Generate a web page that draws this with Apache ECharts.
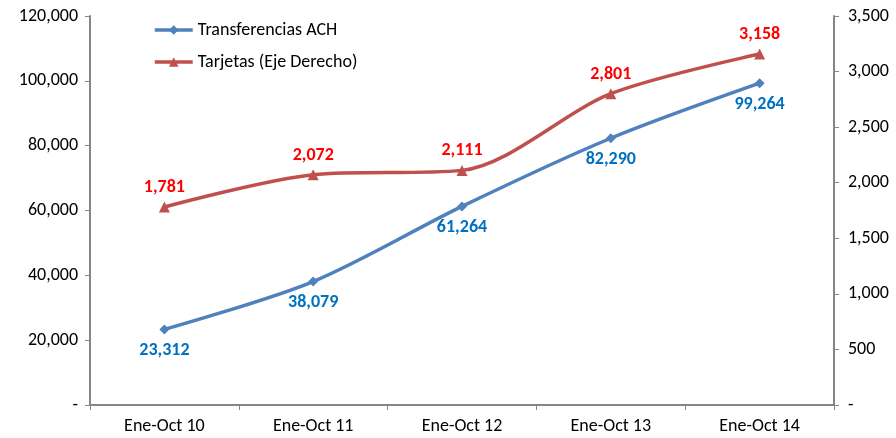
<!DOCTYPE html>
<html>
<head>
<meta charset="utf-8">
<script src="https://cdn.jsdelivr.net/npm/echarts@6/dist/echarts.min.js"></script>
<style>
  html, body { margin: 0; padding: 0; background: #fff; }
  #chart { width: 896px; height: 438px; }
</style>
</head>
<body>
<div id="chart"></div>
<script>
const categories = ['Ene-Oct 10', 'Ene-Oct 11', 'Ene-Oct 12', 'Ene-Oct 13', 'Ene-Oct 14'];
const transferenciasACH = [23312, 38079, 61264, 82290, 99264];
const tarjetas = [1781, 2072, 2111, 2801, 3158];

const fontFamily = 'Carlito, "Liberation Sans", "Noto Sans", sans-serif';
const fmt = v => v === 0 ? '-' : v.toLocaleString('en-US');

const chart = echarts.init(document.getElementById('chart'));
chart.setOption({
    animation: false,
    textStyle: { fontFamily: fontFamily },
    grid: { left: 90, right: 62, top: 16, bottom: 33 },
    legend: {
        orient: 'vertical',
        left: 148,
        top: 16,
        itemGap: 14,
        itemWidth: 38,
        itemHeight: 12,
        lineStyle: { width: 3.5 },
        textStyle: { fontSize: 18, color: '#000', fontFamily: fontFamily },
        data: ['Transferencias ACH', 'Tarjetas (Eje Derecho)']
    },
    xAxis: {
        type: 'category',
        data: categories,
        boundaryGap: true,
        axisLine: { lineStyle: { color: '#868686', width: 2 } },
        axisTick: { show: true, inside: false, length: 5, lineStyle: { color: '#868686' } },
        axisLabel: { color: '#000', fontSize: 18, margin: 12 }
    },
    yAxis: [
        {
            type: 'value',
            min: 0, max: 120000, interval: 20000,
            axisLine: { show: true, lineStyle: { color: '#868686', width: 2 } },
            axisTick: { show: true, length: 5, lineStyle: { color: '#868686' } },
            splitLine: { show: false },
            axisLabel: { color: '#000', fontSize: 18, margin: 12, formatter: fmt }
        },
        {
            type: 'value',
            min: 0, max: 3500, interval: 500,
            position: 'right',
            axisLine: { show: true, lineStyle: { color: '#868686', width: 2 } },
            axisTick: { show: true, length: 5, lineStyle: { color: '#868686' } },
            splitLine: { show: false },
            axisLabel: { color: '#000', fontSize: 18, margin: 14, formatter: fmt }
        }
    ],
    series: [
        {
            name: 'Transferencias ACH',
            type: 'line',
            yAxisIndex: 0,
            smooth: 0.3,
            data: transferenciasACH,
            symbol: 'diamond',
            symbolSize: 10,
            lineStyle: { color: '#4F81BD', width: 3.5 },
            itemStyle: { color: '#4F81BD' },
            label: {
                show: true,
                position: 'bottom',
                distance: 7,
                color: '#0070C0',
                fontWeight: 'bold',
                fontSize: 18,
                formatter: p => fmt(p.value)
            }
        },
        {
            name: 'Tarjetas (Eje Derecho)',
            type: 'line',
            yAxisIndex: 1,
            smooth: 0.3,
            data: tarjetas,
            symbol: 'triangle',
            symbolSize: 11,
            lineStyle: { color: '#C0504D', width: 3.5 },
            itemStyle: { color: '#C0504D' },
            label: {
                show: true,
                position: 'top',
                distance: 5,
                color: '#FF0000',
                fontWeight: 'bold',
                fontSize: 18,
                formatter: p => fmt(p.value)
            }
        }
    ]
});
</script>
</body>
</html>
